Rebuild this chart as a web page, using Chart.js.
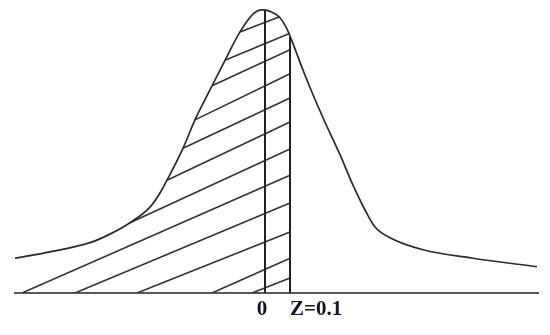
<!DOCTYPE html>
<html>
<head>
<meta charset="utf-8">
<script src="https://cdn.jsdelivr.net/npm/chart.js@4"></script>
<style>
  body { margin: 0; background: #fff; }
</style>
</head>
<body>
<canvas id="myChart" width="550" height="335"></canvas>
<script>
// curve (x in z units, y as density)
const curveX = [-1.0, -0.86, -0.70, -0.62, -0.54, -0.46, -0.42, -0.392, -0.328, -0.28, -0.212, -0.16, -0.10, -0.048, -0.012, 0.02, 0.06, 0.088, 0.108, 0.16, 0.232, 0.30, 0.352, 0.40, 0.44, 0.50, 0.632, 0.832, 1.088];
const curveY = [0.049, 0.058, 0.071, 0.083, 0.099, 0.121, 0.141, 0.159, 0.204, 0.244, 0.292, 0.328, 0.368, 0.393, 0.399, 0.397, 0.388, 0.372, 0.355, 0.307, 0.247, 0.195, 0.152, 0.117, 0.093, 0.078, 0.061, 0.049, 0.037];

// vertical markers at 0 and Z=0.1
const markerX = [0, 0.1];
const markerTop = [0.399, 0.361];
const tickLabels = ['0', 'Z=0.1'];

// hatch lines, start and end points
const hatchX1 = [-0.10, -0.16, -0.212, -0.28, -0.328, -0.392, -0.54, -0.972, -0.76, -0.512, -0.212, -0.052];
const hatchY1 = [0.368, 0.328, 0.292, 0.244, 0.204, 0.159, 0.099, 0, 0, 0, 0, 0];
const hatchX2 = [0.056, 0.1, 0.1, 0.1, 0.1, 0.1, 0.1, 0.1, 0.1, 0.1, 0.1, 0.1];
const hatchY2 = [0.389, 0.366, 0.343, 0.309, 0.275, 0.241, 0.203, 0.166, 0.127, 0.086, 0.049, 0.021];

const lineColor = '#2a2a2a';

let datasets = [];
datasets.push({
    data: curveX.map((x, i) => ({x: x, y: curveY[i]})),
    borderColor: lineColor,
    borderWidth: 1.7,
    cubicInterpolationMode: 'monotone',
    pointRadius: 0,
});
markerX.forEach((x, i) => {
    datasets.push({
        data: [{x: x, y: 0}, {x: x, y: markerTop[i]}],
        borderColor: '#222',
        borderWidth: 2,
        pointRadius: 0,
    });
});
hatchX1.forEach((x, i) => {
    datasets.push({
        data: [{x: x, y: hatchY1[i]}, {x: hatchX2[i], y: hatchY2[i]}],
        borderColor: '#333',
        borderWidth: 1.6,
        pointRadius: 0,
    });
});

// labels under the baseline
const labelPlugin = {
    id: 'zLabels',
    afterDraw(chart) {
        const ctx = chart.ctx;
        const xs = chart.scales.x;
        const base = chart.scales.y.getPixelForValue(0);
        ctx.save();
        ctx.fillStyle = '#15152a';
        ctx.font = 'bold 21px "Liberation Serif", "Times New Roman", serif';
        ctx.textBaseline = 'alphabetic';
        ctx.textAlign = 'center';
        ctx.fillText(tickLabels[0], xs.getPixelForValue(markerX[0]) - 3, base + 22);
        ctx.textAlign = 'left';
        ctx.fillText(tickLabels[1], xs.getPixelForValue(markerX[1]), base + 22);
        ctx.restore();
    }
};

const ctx = document.getElementById('myChart').getContext('2d');
const myChart = new Chart(ctx, {
    type: 'line',
    data: { datasets: datasets },
    options: {
        responsive: false,
        animation: false,
        layout: { padding: { left: 15, right: 12, top: 0, bottom: 42 } },
        scales: {
            x: {
                type: 'linear',
                min: -1.0,
                max: 1.092,
                grid: { display: false, drawTicks: false },
                ticks: { display: false },
                border: { display: true, color: '#5a5a5a', width: 2 },
            },
            y: {
                display: false,
                min: 0,
                max: 0.413,
            },
        },
        plugins: {
            legend: { display: false },
            tooltip: { enabled: false },
        },
    },
    plugins: [labelPlugin],
});
</script>
</body>
</html>
